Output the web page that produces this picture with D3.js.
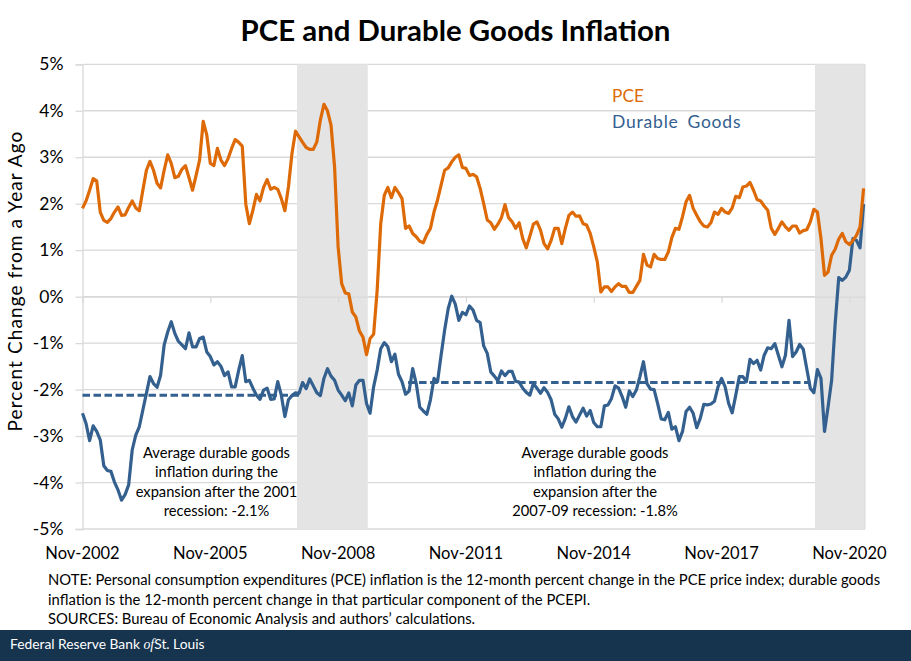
<!DOCTYPE html>
<html><head><meta charset="utf-8">
<script src="https://cdn.jsdelivr.net/npm/d3@7"></script>
<style>
html,body{margin:0;padding:0;background:#fff;overflow:hidden}
svg{display:block}
text{font-family:Lato,"Open Sans",sans-serif}
</style></head><body>
<svg id="c" width="911" height="661"></svg>
<script>
// Monthly observations starting Nov-2002 (index 0)
const pce = [1.90,2.06,2.29,2.54,2.49,1.82,1.64,1.60,1.68,1.82,1.93,1.75,1.76,1.92,2.06,1.91,1.85,2.29,2.72,2.91,
2.72,2.44,2.34,2.72,3.05,2.87,2.56,2.59,2.74,2.82,2.56,2.29,2.61,2.95,3.77,3.48,2.87,2.82,3.19,2.94,
2.82,2.97,3.19,3.38,3.32,3.24,1.99,1.57,1.86,2.20,2.06,2.35,2.52,2.31,2.35,2.31,2.11,1.85,2.36,3.08,
3.56,3.44,3.32,3.21,3.17,3.17,3.33,3.80,4.14,4.00,3.69,2.79,1.07,0.28,0.08,0.06,-0.33,-0.44,-0.74,-0.87,
-1.25,-0.90,-0.81,0.14,1.57,2.18,2.35,2.13,2.35,2.24,2.11,1.47,1.52,1.36,1.29,1.19,1.16,1.34,1.47,1.82,
2.08,2.40,2.72,2.77,2.90,3.00,3.05,2.78,2.76,2.61,2.63,2.58,2.33,2.00,1.65,1.59,1.45,1.56,1.70,1.98,
1.70,1.61,1.47,1.59,1.25,1.05,1.30,1.56,1.61,1.43,1.14,1.03,1.21,1.47,1.47,1.14,1.47,1.75,1.82,1.73,
1.74,1.57,1.54,1.36,1.07,0.75,0.10,0.21,0.21,0.11,0.21,0.28,0.22,0.22,0.09,0.09,0.22,0.35,0.91,0.68,
0.64,0.91,0.82,0.80,0.80,0.96,1.27,1.47,1.45,1.72,2.04,2.18,1.90,1.75,1.61,1.52,1.50,1.59,1.82,1.77,
1.90,1.82,1.79,1.91,2.16,2.13,2.36,2.38,2.46,2.29,2.09,2.06,1.95,1.86,1.47,1.34,1.47,1.61,1.50,1.43,
1.52,1.52,1.37,1.42,1.44,1.61,1.88,1.82,1.25,0.46,0.53,0.89,1.02,1.24,1.36,1.18,1.12,1.21,1.32,1.50,2.33];
const durable = [-2.51,-2.73,-3.10,-2.78,-2.90,-3.08,-3.64,-3.74,-3.76,-3.99,-4.16,-4.38,-4.26,-4.05,-3.30,-2.98,-2.80,-2.44,-2.08,-1.72,
-1.87,-1.95,-1.69,-1.04,-0.76,-0.54,-0.79,-0.96,-1.04,-1.12,-0.78,-1.08,-1.08,-0.90,-0.87,-1.19,-1.29,-1.47,-1.40,-1.50,
-1.70,-1.62,-1.94,-1.94,-1.58,-1.27,-1.83,-1.80,-1.97,-2.12,-2.21,-2.01,-1.97,-2.21,-2.20,-1.83,-2.12,-2.58,-2.22,-2.13,
-2.07,-2.08,-1.85,-1.98,-1.77,-1.92,-2.07,-2.13,-1.76,-1.55,-1.71,-1.80,-2.01,-2.12,-2.24,-2.07,-2.35,-1.90,-1.80,-1.80,
-2.30,-2.51,-1.94,-1.58,-1.12,-0.99,-1.08,-1.40,-1.24,-1.67,-1.83,-2.10,-2.03,-1.55,-1.87,-2.38,-2.46,-2.53,-2.22,-1.76,
-1.83,-1.26,-0.72,-0.26,0.01,-0.16,-0.51,-0.34,-0.39,-0.20,-0.29,-0.51,-0.56,-1.06,-1.22,-1.62,-1.71,-1.81,-1.60,-1.70,
-1.61,-1.61,-1.82,-1.84,-1.97,-2.06,-2.12,-1.87,-1.97,-2.08,-1.96,-2.06,-2.22,-2.53,-2.63,-2.81,-2.62,-2.37,-2.58,-2.70,
-2.55,-2.40,-2.57,-2.45,-2.71,-2.80,-2.80,-2.35,-2.33,-2.19,-1.92,-1.97,-2.15,-2.38,-2.03,-2.15,-2.01,-1.72,-1.40,-1.87,
-1.99,-2.00,-2.30,-2.63,-2.65,-2.49,-2.85,-2.80,-3.10,-2.90,-2.47,-2.38,-2.51,-2.82,-2.62,-2.32,-2.33,-2.31,-2.25,-1.94,
-1.76,-1.94,-2.30,-2.50,-2.12,-1.72,-1.72,-1.83,-1.35,-1.44,-1.37,-1.58,-1.26,-1.10,-1.12,-1.01,-1.26,-1.51,-1.26,-0.51,
-1.29,-1.19,-1.03,-1.13,-1.55,-1.97,-2.07,-1.57,-1.76,-2.90,-2.37,-1.80,-0.58,0.41,0.35,0.42,0.57,1.25,1.21,1.05,1.99];
const xTickLabels = ["Nov-2002","Nov-2005","Nov-2008","Nov-2011","Nov-2014","Nov-2017","Nov-2020"];
const xTickIndex = [0,36,72,108,144,180,216];
const yTicks = [-5,-4,-3,-2,-1,0,1,2,3,4,5];
const recessions = [[60.4,80.35],[206.3,220.4]];
const avg2001 = {from:0, to:61, value:-2.12};
const avg2007 = {from:91.7, to:205, value:-1.85};
const note1 = ["Average durable goods","inflation during the","expansion after the 2001","recession: -2.1%"];
const note2 = ["Average durable goods","inflation during the","expansion after the","2007-09 recession: -1.8%"];
const footnotes = [
 "NOTE: Personal consumption expenditures (PCE) inflation is the 12-month percent change in the PCE price index; durable goods",
 "inflation is the 12-month percent change in that particular component of the PCEPI.",
 "SOURCES: Bureau of Economic Analysis and authors\u2019 calculations."];

const ORANGE="#dd6a06", BLUE="#33608f", GRID="#d9d9d9", INK="#000";
const svg=d3.select("#c");
const x=d3.scaleLinear().domain([0,220.4]).range([82.5,865]);
const y=d3.scaleLinear().domain([-5,5]).range([529,64.3]);

svg.append("text").attr("x",455.5).attr("y",40.5).attr("text-anchor","middle")
  .attr("font-size",29.4).attr("font-weight",700).attr("fill",INK).text("PCE and Durable Goods Inflation");

// y axis + gridlines
const yAxis=svg.append("g").attr("transform","translate(82.5,0)")
  .call(d3.axisLeft(y).tickValues(yTicks).tickFormat(d=>d+"%").tickSize(7).tickPadding(12));
yAxis.select(".domain").attr("stroke",GRID).attr("stroke-width",1.3);
yAxis.selectAll("line").attr("stroke",GRID).attr("stroke-width",1.3);
yAxis.selectAll("text").attr("font-size",17.5).attr("fill",INK).style("font-family","Lato");
svg.append("g").selectAll("line").data(yTicks).join("line")
  .attr("x1",x(0)).attr("x2",x.range()[1]).attr("y1",d=>y(d)).attr("y2",d=>y(d))
  .attr("stroke",GRID).attr("stroke-width",1.3);

// recession shading
svg.append("g").selectAll("rect").data(recessions).join("rect")
  .attr("x",d=>x(d[0])).attr("width",d=>x(d[1])-x(d[0]))
  .attr("y",y(5)).attr("height",y(-5)-y(5)).attr("fill","#e4e4e4");
svg.append("line").attr("x1",x(220.4)).attr("x2",x(220.4)).attr("y1",y(5)).attr("y2",y(-5)).attr("stroke",GRID).attr("stroke-width",1);

// zero axis with ticks
const xAxis=svg.append("g").attr("transform",`translate(0,${y(0)})`)
  .call(d3.axisBottom(x).tickValues(xTickIndex).tickFormat("").tickSize(6).tickSizeOuter(0));
xAxis.select(".domain").attr("stroke",GRID).attr("stroke-width",1.3);
xAxis.selectAll("line").attr("stroke",GRID).attr("stroke-width",1.3);
svg.append("g").selectAll("text").data(xTickIndex).join("text")
  .attr("x",d=>x(d)).attr("y",559).attr("text-anchor","middle").attr("font-size",16.5).attr("fill",INK)
  .text((d,i)=>xTickLabels[i]);

svg.append("text").attr("transform","translate(21.5,281) rotate(-90)").attr("text-anchor","middle")
  .attr("font-size",19).attr("letter-spacing",1.1).attr("fill",INK).text("Percent Change from a Year Ago");

// series
const line=d3.line().x((d,i)=>x(i)).y(d=>y(d)).curve(d3.curveLinear);
svg.append("path").datum(durable).attr("d",line).attr("fill","none").attr("stroke",BLUE).attr("stroke-width",3.2).attr("stroke-linejoin","round");
svg.append("path").datum(pce).attr("d",line).attr("fill","none").attr("stroke",ORANGE).attr("stroke-width",3.2).attr("stroke-linejoin","round");

// average dashed lines
svg.append("g").selectAll("line").data([avg2001,avg2007]).join("line")
  .attr("x1",d=>x(d.from)).attr("x2",d=>x(d.to)).attr("y1",d=>y(d.value)).attr("y2",d=>y(d.value))
  .attr("stroke",BLUE).attr("stroke-width",3).attr("stroke-dasharray","7.5 3.5");

// legend
svg.append("text").attr("x",612).attr("y",102).attr("font-size",17.3).attr("fill",ORANGE).text("PCE");
svg.append("text").attr("x",612).attr("y",128).attr("font-size",17.5).attr("letter-spacing",0.8).attr("word-spacing",3.5).attr("fill",BLUE).text("Durable Goods");

// annotations
function block(lines,cx){
  svg.append("g").selectAll("text").data(lines).join("text")
   .attr("x",cx).attr("y",(d,i)=>458+i*19.4).attr("text-anchor","middle")
   .attr("font-size",14.7).attr("fill",INK).text(d=>d);
}
block(note1,216.5); block(note2,595);

// notes
svg.append("g").selectAll("text").data(footnotes).join("text")
  .attr("x",48).attr("y",(d,i)=>[585,605,624][i]).attr("font-size",14.8).attr("fill",INK).text(d=>d);

// footer
svg.append("rect").attr("x",0).attr("y",630).attr("width",911).attr("height",31).attr("fill","#17344f");
const f=svg.append("text").attr("x",10).attr("y",649).attr("font-size",13.8).attr("fill","#fff");
f.append("tspan").text("Federal Reserve Bank ");
f.append("tspan").attr("font-style","italic").attr("font-family","Liberation Serif").text("of");
f.append("tspan").text("St. Louis");
</script>
</body></html>
